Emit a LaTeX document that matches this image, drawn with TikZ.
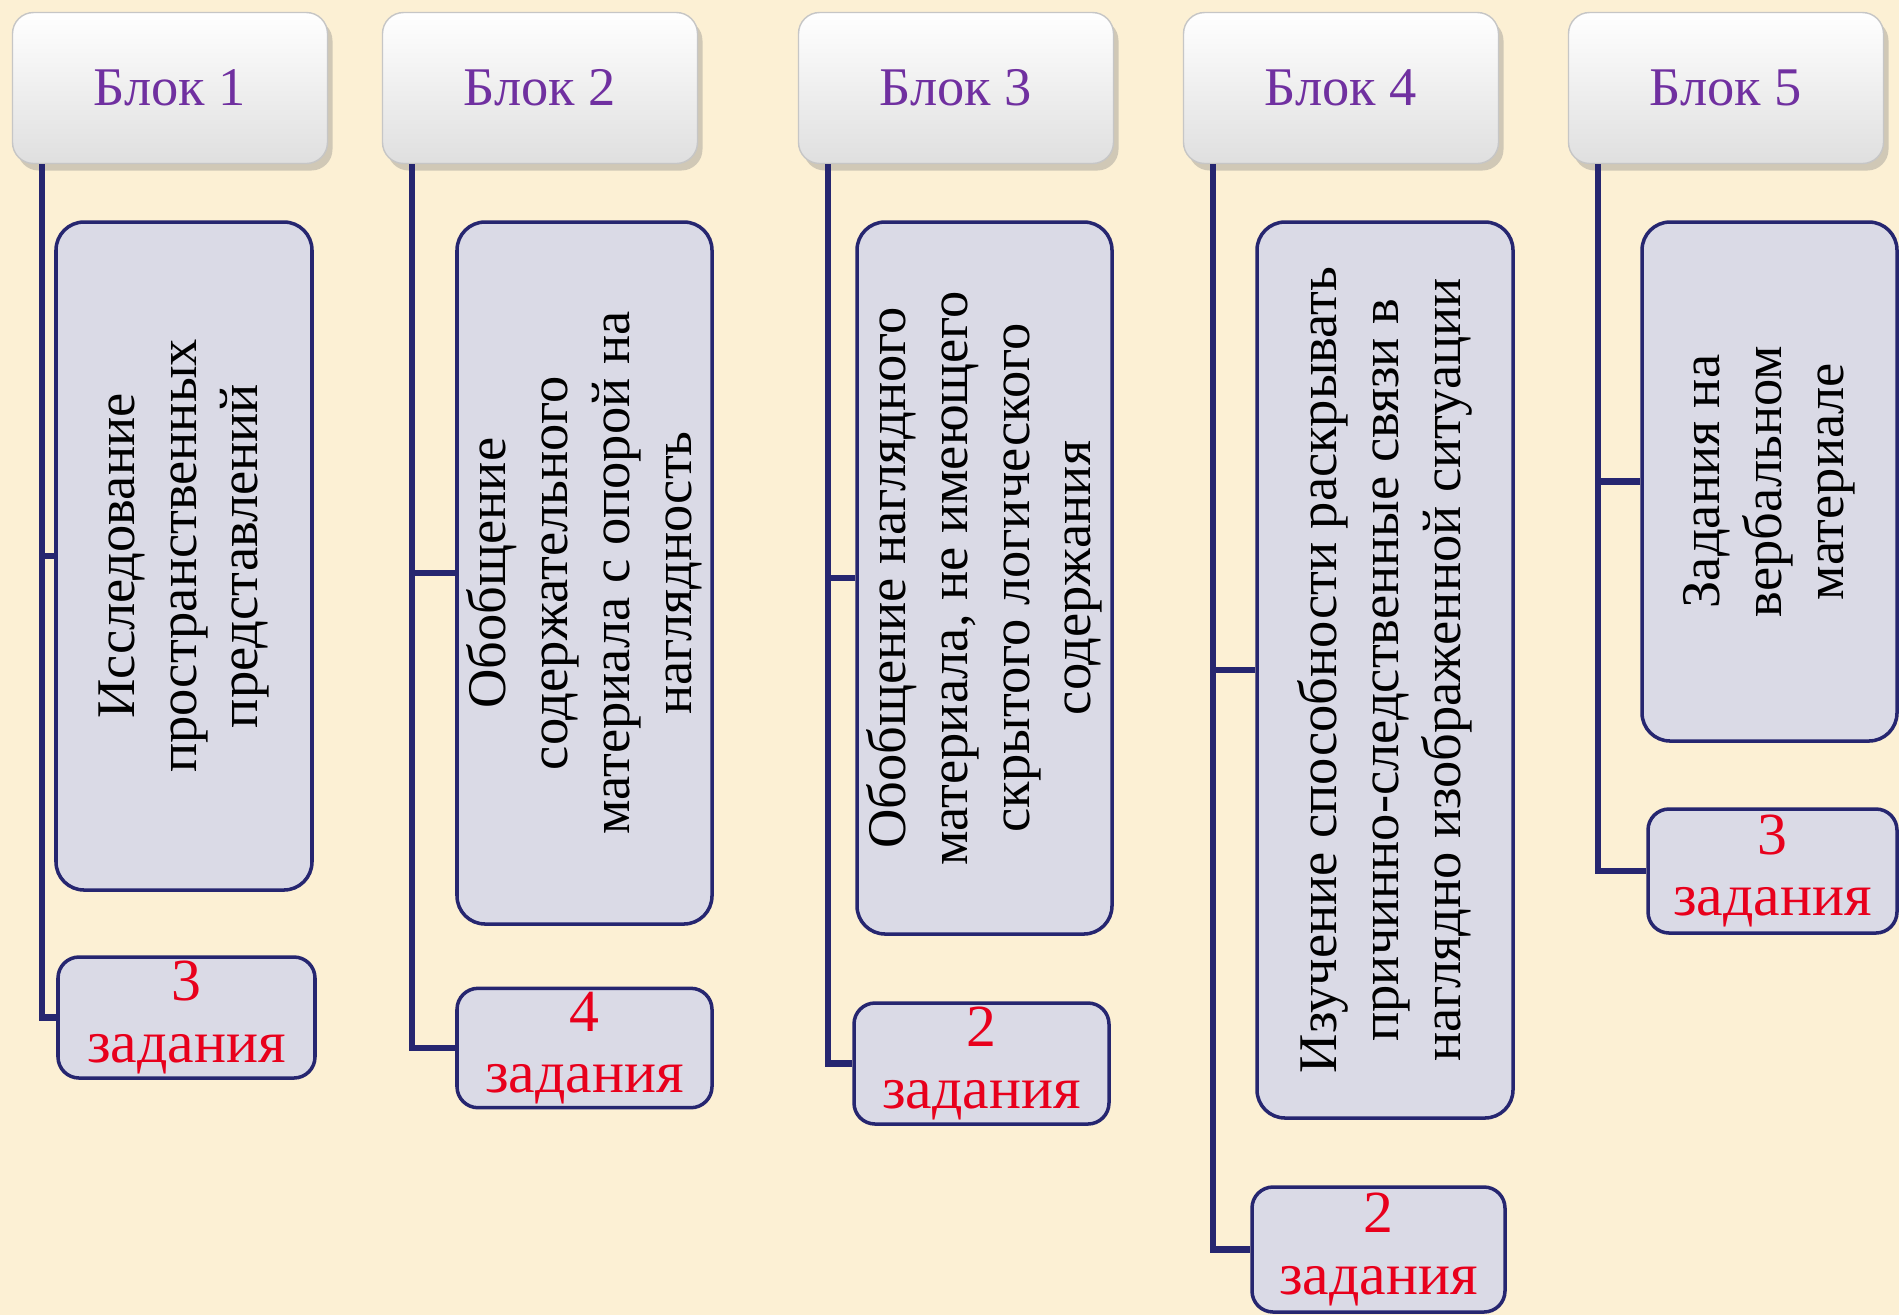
\documentclass[tikz,border=0pt]{standalone}
\usepackage{fontspec}
\setmainfont{Liberation Serif}
\usetikzlibrary{shadows}
\definecolor{bgcream}{HTML}{FCF0D4}
\definecolor{navy}{HTML}{262670}
\definecolor{lilac}{HTML}{DADAE6}
\definecolor{headtext}{HTML}{7030A0}
\definecolor{taskred}{HTML}{E8001C}
\begin{document}
\begin{tikzpicture}[
  blockhead/.style={draw=gray!45, rounded corners=6pt, top color=white, bottom color=gray!25, minimum width=3.15cm, minimum height=1.51cm, drop shadow={opacity=0.35, shadow xshift=0.5mm, shadow yshift=-0.7mm}, text=headtext, font=\fontsize{15.5}{18}\selectfont},
  descbox/.style={draw=navy, line width=1pt, fill=lilac, rounded corners=8pt, rotate=90, align=center, inner sep=1pt, font=\fontsize{15.5}{17.6}\selectfont},
  countbox/.style={draw=navy, line width=1pt, fill=lilac, rounded corners=6pt, align=center, text=taskred, inner sep=1pt, font=\fontsize{17}{17.5}\selectfont},
  link/.style={draw=navy, line width=1.8pt}
]
\useasboundingbox (0,0) rectangle (18.99,-13.15);
\fill[bgcream] (0,0) rectangle (18.99,-13.15);

\node[blockhead] (h1) at (1.70,-0.88) {Блок 1};
\node[blockhead] (h2) at (5.40,-0.88) {Блок 2};
\node[blockhead] (h3) at (9.56,-0.88) {Блок 3};
\node[blockhead] (h4) at (13.41,-0.88) {Блок 4};
\node[blockhead] (h5) at (17.26,-0.88) {Блок 5};

\node[descbox, minimum width=6.68cm, minimum height=2.56cm] (d1) at (1.84,-5.56) {Исследование\\пространственных\\представлений};
\node[descbox, minimum width=7.02cm, minimum height=2.55cm] (d2) at (5.845,-5.73) {Обобщение\\содержательного\\материала с опорой на\\наглядность};
\node[descbox, minimum width=7.12cm, minimum height=2.55cm] (d3) at (9.845,-5.78) {Обобщение наглядного\\материала, не имеющего\\скрытого логического\\содержания};
\node[descbox, minimum width=8.96cm, minimum height=2.56cm] (d4) at (13.85,-6.70) {Изучение способности раскрывать\\причинно-следственные связи в\\наглядно изображенной ситуации};
\node[descbox, minimum width=5.19cm, minimum height=2.55cm] (d5) at (17.695,-4.815) {Задания на\\вербальном\\материале};

\node[countbox, minimum width=2.57cm, minimum height=1.21cm] (c1) at (1.865,-10.175) {3\\задания};
\node[countbox, minimum width=2.55cm, minimum height=1.14cm] (c2) at (5.845,-10.48) {4\\задания};
\node[countbox, minimum width=2.55cm, minimum height=1.21cm] (c3) at (9.815,-10.635) {2\\задания};
\node[countbox, minimum width=2.53cm, minimum height=1.25cm] (c4) at (13.785,-12.495) {2\\задания};
\node[countbox, minimum width=2.49cm, minimum height=1.24cm] (c5) at (17.725,-8.71) {3\\задания};

\coordinate (t1) at ([xshift=3mm]h1.south west);
\coordinate (t2) at ([xshift=3mm]h2.south west);
\coordinate (t3) at ([xshift=3mm]h3.south west);
\coordinate (t4) at ([xshift=3mm]h4.south west);
\coordinate (t5) at ([xshift=3mm]h5.south west);

\draw[link] (t1) |- (c1.west);
\draw[link] (d1.north) -- (d1.north -| t1);
\draw[link] (t2) |- (c2.west);
\draw[link] (d2.north) -- (d2.north -| t2);
\draw[link] (t3) |- (c3.west);
\draw[link] (d3.north) -- (d3.north -| t3);
\draw[link] (t4) |- (c4.west);
\draw[link] (d4.north) -- (d4.north -| t4);
\draw[link] (t5) |- (c5.west);
\draw[link] (d5.north) -- (d5.north -| t5);
\end{tikzpicture}
\end{document}
